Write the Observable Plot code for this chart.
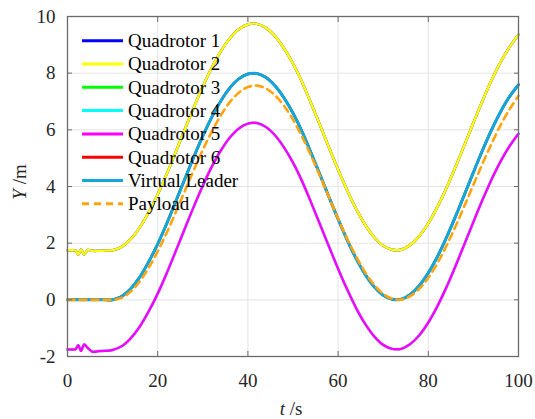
<!DOCTYPE html>
<html><head><meta charset="utf-8">
<script src="https://cdn.jsdelivr.net/npm/d3@7"></script>
<script src="https://cdn.jsdelivr.net/npm/@observablehq/plot@0.6"></script>
<style>
body{margin:0;background:#fff;}
#wrap{position:relative;width:535px;height:419px;}
#wrap svg{display:block;}
#overlay{position:absolute;left:0;top:0;pointer-events:none;}
</style></head><body>
<div id="wrap"></div>
<script>
// time samples (s)
const time = [0,1,1.8,2.4,3,3.7,4.5,5.5,7,8.5,10,
  12,14,16,18,20,22,24,26,28,30,32,34,36,38,40,42,44,46,48,50,
  52,54,56,58,60,62,64,66,68,70,72,74,76,78,80,82,84,86,88,90,
  92,94,96,98,100];
// Virtual Leader Y (m) — Quadrotor 3 and 6 lie on it
const leaderY = [0,0,0,0,0,0,0,0,0,0,0,
  0.12,0.39,0.80,1.34,1.97,2.69,3.47,4.26,5.04,5.78,6.45,7.02,7.48,7.80,7.97,7.99,7.85,7.56,7.13,6.59,
  5.94,5.19,4.41,3.62,2.85,2.12,1.46,0.90,0.46,0.16,0.02,0.02,0.19,0.50,0.95,1.52,2.19,2.93,3.71,4.50,
  5.27,5.99,6.63,7.17,7.59];
// Quadrotor 1 and 2 Y (m)
const upperY = [1.75,1.75,1.74,1.60,1.78,1.60,1.76,1.73,1.73,1.74,1.75,
  1.87,2.14,2.55,3.09,3.72,4.44,5.22,6.01,6.79,7.53,8.20,8.77,9.23,9.55,9.72,9.74,9.60,9.31,8.88,8.34,
  7.69,6.94,6.16,5.37,4.60,3.87,3.21,2.65,2.21,1.91,1.77,1.77,1.94,2.25,2.70,3.27,3.94,4.68,5.46,6.25,
  7.02,7.74,8.38,8.92,9.36];
// Quadrotor 4 and 5 Y (m)
const lowerY = [-1.75,-1.75,-1.74,-1.60,-1.80,-1.58,-1.70,-1.83,-1.81,-1.80,-1.77,
  -1.64,-1.36,-0.95,-0.41,0.22,0.94,1.72,2.51,3.29,4.03,4.70,5.27,5.73,6.05,6.22,6.24,6.10,5.81,5.38,4.84,
  4.19,3.44,2.66,1.87,1.10,0.37,-0.29,-0.85,-1.29,-1.59,-1.73,-1.73,-1.56,-1.25,-0.80,-0.23,0.44,1.18,1.96,2.75,
  3.52,4.24,4.88,5.42,5.86];
// Payload Y (m)
const payloadY = [0,0,0,0,0,0,0,0,0,0,0,
  0.07,0.29,0.65,1.13,1.71,2.37,3.09,3.84,4.58,5.29,5.94,6.51,6.98,7.31,7.51,7.56,7.46,7.22,6.85,6.36,
  5.76,5.09,4.36,3.61,2.87,2.16,1.53,0.97,0.53,0.21,0.04,0.01,0.13,0.39,0.78,1.29,1.90,2.58,3.31,4.06,
  4.80,5.50,6.16,6.72,7.20];

const seriesNames = ["Quadrotor 1","Quadrotor 2","Quadrotor 3","Quadrotor 4","Quadrotor 5","Quadrotor 6","Virtual Leader","Payload"];
const seriesValues = [upperY, upperY, leaderY, lowerY, lowerY, leaderY, leaderY, payloadY];
const seriesColors = ["#0000ff","#ffff00","#00ff00","#00ffff","#ff00ff","#ff0000","#12a6dc","#ffa30f"];
const seriesWidths = [2.5,2.5,2.5,2.5,2.5,2.5,3,2.6];
const seriesDash = [null,null,null,null,null,null,null,"7,5"];
const xTicks = [0,20,40,60,80,100];
const yTicks = [-2,0,2,4,6,8,10];

const serif = "Liberation Serif";
const axisColor = "#6a6a6a";
const fmt = d => String(d);
const lines = seriesValues.map((ys, i) => Plot.line(time, {
  x: time, y: ys, stroke: seriesColors[i], strokeWidth: seriesWidths[i],
  strokeDasharray: seriesDash[i], curve: "catmull-rom"
}));

const chart = Plot.plot({
  width: 535, height: 419,
  marginLeft: 67, marginRight: 17, marginTop: 16, marginBottom: 63,
  x: {domain: [0, 100], label: null},
  y: {domain: [-2, 10], label: null},
  style: {fontFamily: serif, fontSize: "19px", color: "#262626", background: "white"},
  marks: [
    Plot.gridX(xTicks, {stroke: "#e4e4e4", strokeOpacity: 1, strokeWidth: 1}),
    Plot.gridY(yTicks, {stroke: "#e4e4e4", strokeOpacity: 1, strokeWidth: 1}),
    ...lines,
    Plot.frame({stroke: axisColor, strokeWidth: 1.3}),
    Plot.axisX(xTicks, {anchor: "bottom", tickSize: 0, tickPadding: 17, tickFormat: fmt, label: null, fill: "#262626", fontFamily: serif}),
    Plot.axisY(yTicks, {anchor: "left", tickSize: 0, tickPadding: 12, tickFormat: fmt, label: null, fill: "#262626", fontFamily: serif}),
    Plot.axisX(xTicks, {anchor: "bottom", tickSize: -5, tickFormat: () => "", label: null, stroke: axisColor}),
    Plot.axisX(xTicks, {anchor: "top", tickSize: -5, tickFormat: () => "", label: null, stroke: axisColor}),
    Plot.axisY(yTicks, {anchor: "left", tickSize: -5, tickFormat: () => "", label: null, stroke: axisColor}),
    Plot.axisY(yTicks, {anchor: "right", tickSize: -5, tickFormat: () => "", label: null, stroke: axisColor})
  ]
});
const wrap = document.getElementById("wrap");
wrap.appendChild(chart);

// overlay: legend (inside the axes, no box) and axis titles
const ov = d3.select(wrap).append("svg").attr("id", "overlay")
  .attr("width", 535).attr("height", 419);
const legX0 = 82, legX1 = 123, legText = 128, legTop = 40.7, legStep = 23.3;
seriesNames.forEach((name, i) => {
  const cy = legTop + i * legStep;
  ov.append("line").attr("x1", legX0).attr("x2", legX1).attr("y1", cy).attr("y2", cy)
    .attr("stroke", seriesColors[i]).attr("stroke-width", 3)
    .attr("stroke-dasharray", seriesDash[i]);
  ov.append("text").attr("x", legText).attr("y", cy + 6.3)
    .attr("font-family", serif).attr("font-size", 19).attr("fill", "#000").text(name);
});
const yl = ov.append("text").attr("transform", "translate(25.5,182) rotate(-90)")
  .attr("font-family", serif).attr("text-anchor", "middle").attr("font-size", 19).attr("fill", "#262626");
yl.append("tspan").attr("font-style", "italic").text("Y");
yl.append("tspan").text(" /m");
const xl = ov.append("text").attr("x", 291).attr("y", 414.5)
  .attr("font-family", serif).attr("text-anchor", "middle").attr("font-size", 19).attr("fill", "#262626");
xl.append("tspan").attr("font-style", "italic").text("t");
xl.append("tspan").text(" /s");
</script></body></html>
